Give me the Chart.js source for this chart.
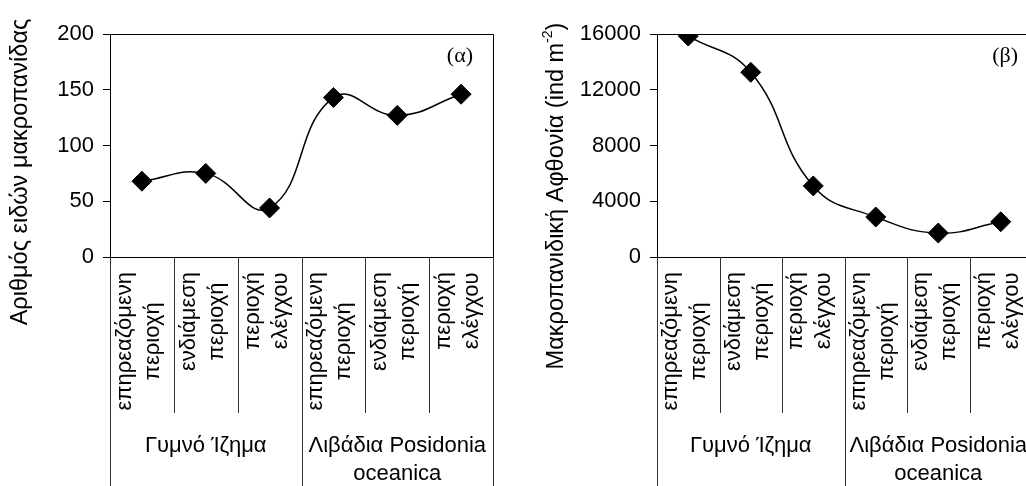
<!DOCTYPE html>
<html>
<head>
<meta charset="utf-8">
<script src="https://cdn.jsdelivr.net/npm/chart.js@4"></script>
<style>
    html, body { margin: 0; padding: 0; background: #fff; overflow: hidden; width: 1026px; height: 486px; }
    #wrap-a { position: absolute; left: 0; top: 0; }
    #wrap-b { position: absolute; left: 513px; top: 0; }
</style>
</head>
<body>
<div id="wrap-a"><canvas id="chart-a" width="513" height="486"></canvas></div>
<div id="wrap-b"><canvas id="chart-b" width="530" height="486"></canvas></div>
<script>
// Categories (two-level axis)
const siteLabels = [
    ['επηρεαζόμενη', 'περιοχή'],
    ['ενδιάμεση', 'περιοχή'],
    ['περιοχή', 'ελέγχου'],
    ['επηρεαζόμενη', 'περιοχή'],
    ['ενδιάμεση', 'περιοχή'],
    ['περιοχή', 'ελέγχου']
];
const habitatLabels = [['Γυμνό Ίζημα'], ['Λιβάδια Posidonia', 'oceanica']];
const sitesPerHabitat = 3;

// Series values
const speciesCount = [68, 75, 44, 143, 127, 146];
const abundance = [15850, 13250, 5100, 2870, 1720, 2530];

const FONT = '"Liberation Sans", Arial, sans-serif';
const LABEL_SIZE = 22;
const TITLE_SIZE = 23.5;

// Draws frame, two-level category labels, panel tag and y title
const axisDecor = {
    id: 'axisDecor',
    afterDraw(chart, args, opts) {
        const { ctx, chartArea: a, scales: { x } } = chart;
        const H = chart.height;
        const n = chart.data.labels.length;
        const half = (x.getPixelForValue(1) - x.getPixelForValue(0)) / 2;
        const edge = i => Math.round(x.getPixelForValue(i) - half) + 0.5;

        ctx.save();
        // top + right frame
        ctx.strokeStyle = '#000';
        ctx.lineWidth = 1;
        ctx.beginPath();
        ctx.moveTo(Math.round(a.left), Math.round(a.top) + 0.5);
        ctx.lineTo(Math.round(a.right) + 0.5, Math.round(a.top) + 0.5);
        ctx.lineTo(Math.round(a.right) + 0.5, Math.round(a.bottom));
        ctx.stroke();

        // separators below the axis
        ctx.strokeStyle = '#333';
        for (let i = 0; i <= n; i++) {
            const px = i === n ? Math.round(x.getPixelForValue(n - 1) + half) + 0.5 : edge(i);
            const full = i % sitesPerHabitat === 0;
            ctx.beginPath();
            ctx.moveTo(px, a.bottom);
            ctx.lineTo(px, full ? H : a.bottom + 156);
            ctx.stroke();
        }

        // site labels, rotated
        ctx.fillStyle = '#000';
        ctx.font = LABEL_SIZE + 'px ' + FONT;
        ctx.textAlign = 'center';
        ctx.textBaseline = 'middle';
        const lineH = 28;
        siteLabels.forEach((lines, i) => {
            const cx = x.getPixelForValue(i) - 3;
            const len = Math.max(...lines.map(l => ctx.measureText(l).width));
            ctx.save();
            ctx.translate(cx, a.bottom + 15 + len / 2);
            ctx.rotate(-Math.PI / 2);
            lines.forEach((l, k) => {
                ctx.fillText(l, 0, (k - (lines.length - 1) / 2) * lineH);
            });
            ctx.restore();
        });

        // habitat labels
        habitatLabels.forEach((lines, g) => {
            const c0 = x.getPixelForValue(g * sitesPerHabitat);
            const c1 = x.getPixelForValue(g * sitesPerHabitat + sitesPerHabitat - 1);
            const cx = (c0 + c1) / 2;
            lines.forEach((l, k) => {
                ctx.fillText(l, cx, a.bottom + 189 + k * 28);
            });
        });

        // panel tag
        ctx.font = '22px "Liberation Serif", "Times New Roman", serif';
        ctx.textAlign = 'right';
        ctx.fillText(opts.tag, a.right - opts.tagInset, a.top + 22);

        // y title with optional superscript
        ctx.textAlign = 'left';
        const mainFont = TITLE_SIZE + 'px ' + FONT;
        const supFont = '14px ' + FONT;
        const parts = opts.title;
        const widths = parts.map(p => {
            ctx.font = p.sup ? supFont : mainFont;
            return ctx.measureText(p.text).width;
        });
        const total = widths.reduce((s, w) => s + w, 0);
        ctx.translate(opts.titleX, opts.titleY);
        ctx.rotate(-Math.PI / 2);
        let tx = -total / 2;
        parts.forEach((p, k) => {
            ctx.font = p.sup ? supFont : mainFont;
            ctx.fillText(p.text, tx, p.sup ? -9 : 0);
            tx += widths[k];
        });
        ctx.restore();
    }
};

function makeChart(id, values, yMax, yStep, yWidth, padRight, decor) {
    return new Chart(document.getElementById(id), {
        type: 'line',
        data: {
            labels: siteLabels.map(l => l.join(' ')),
            datasets: [{
                data: values,
                borderColor: '#000',
                borderWidth: 1.5,
                backgroundColor: '#000',
                pointStyle: 'rectRot',
                pointRadius: 10,
                pointBorderWidth: 1,
                pointBorderColor: '#000',
                pointBackgroundColor: '#000',
                tension: 0.45,
                fill: false
            }]
        },
        options: {
            responsive: false,
            animation: false,
            layout: { padding: { top: 34, right: padRight, left: 0, bottom: 0 } },
            plugins: {
                legend: { display: false },
                tooltip: { enabled: false },
                axisDecor: decor
            },
            scales: {
                x: {
                    type: 'category',
                    offset: true,
                    grid: { display: false },
                    border: { color: '#000', width: 1 },
                    ticks: { display: false },
                    afterFit: s => { s.height = 229; }
                },
                y: {
                    min: 0,
                    max: yMax,
                    ticks: {
                        stepSize: yStep,
                        color: '#000',
                        padding: 9,
                        font: { family: FONT, size: LABEL_SIZE },
                        callback: v => String(v)
                    },
                    grid: { drawOnChartArea: false, tickLength: 7, color: '#000' },
                    border: { color: '#000', width: 1 },
                    afterFit: s => { s.width = yWidth; }
                }
            }
        },
        plugins: [axisDecor]
    });
}

makeChart('chart-a', speciesCount, 200, 50, 110, 20, {
    tag: '(α)', tagInset: 20,
    title: [{ text: 'Αριθμός ειδών μακροπανίδας' }],
    titleX: 21, titleY: 172
});

makeChart('chart-b', abundance, 16000, 4000, 144, 7, {
    tag: '(β)', tagInset: 14,
    title: [{ text: 'Μακροπανιδική Αφθονία (ind m' }, { text: '-2', sup: true }, { text: ')' }],
    titleX: 44, titleY: 196
});
</script>
</body>
</html>
